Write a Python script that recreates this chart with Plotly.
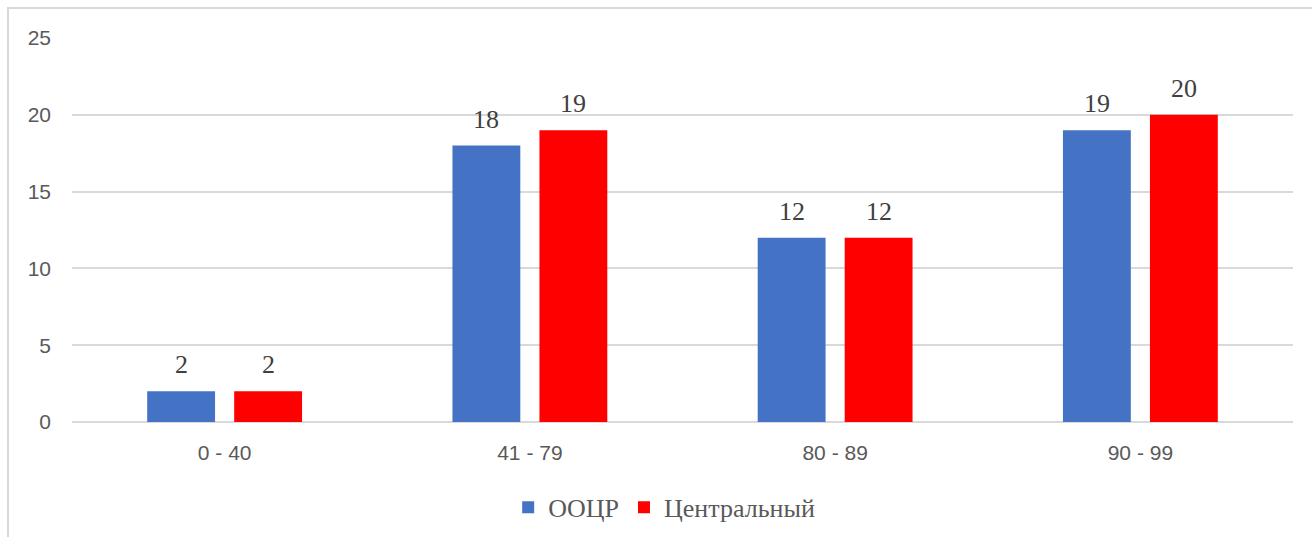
import plotly.graph_objects as go

categories = ["0 - 40", "41 - 79", "80 - 89", "90 - 99"]
series_names = ["ООЦР", "Центральный"]
oocr_values = [2, 18, 12, 19]
central_values = [2, 19, 12, 20]
y_ticks = [0, 5, 10, 15, 20, 25]

colors = ["#4472C4", "#FF0000"]
serif = "Liberation Serif, Times New Roman, serif"
sans = "Liberation Sans, Arial, sans-serif"

# plot area geometry (pixels)
PLOT_W = 1312 - 72 - 19
SLOT = PLOT_W / len(categories) * (1 - 0.43) / 2

fig = go.Figure()
annotations = []
for i, (name, vals, col) in enumerate(zip(series_names, [oocr_values, central_values], colors)):
    fig.add_trace(go.Bar(
        x=categories, y=vals, name=name,
        marker=dict(color=col, line=dict(width=0)),
    ))
    shift = (i - 0.5) * SLOT
    for cat, v in zip(categories, vals):
        annotations.append(dict(
            x=cat, y=v, xref="x", yref="y", text=str(v), showarrow=False,
            xshift=shift, yshift=10, yanchor="bottom",
            font=dict(family=serif, size=26, color="#404040"),
        ))

fig.update_layout(
    width=1312, height=537,
    margin=dict(l=72, r=19, t=38, b=115, autoexpand=False),
    paper_bgcolor="white", plot_bgcolor="white",
    barmode="group", bargap=0.43, bargroupgap=0.22,
    showlegend=True,
    legend=dict(orientation="h", x=0.485, xanchor="center", y=-0.222, yanchor="middle",
                font=dict(family=serif, size=26, color="#595959"),
                itemwidth=30),
    annotations=annotations,
    xaxis=dict(showgrid=False, showline=False, ticks="", zeroline=False,
               tickfont=dict(family=sans, size=21, color="#595959"),
               ticklabelstandoff=16),
    yaxis=dict(range=[0, 25], tickvals=y_ticks, showgrid=True, gridcolor="#D9D9D9", gridwidth=1.5,
               zeroline=True, zerolinecolor="#D9D9D9", zerolinewidth=1.5, showline=False, ticks="",
               tickfont=dict(family=sans, size=21, color="#595959"),
               ticklabelstandoff=20),
    shapes=[dict(type="rect", xref="paper", yref="paper",
                 x0=(8 - 72) / PLOT_W, x1=1.2, y0=-0.6, y1=1 + 30 / 384,
                 line=dict(color="#D9D9D9", width=2), fillcolor="rgba(0,0,0,0)", layer="below")],
)

fig.write_html("out.html")
